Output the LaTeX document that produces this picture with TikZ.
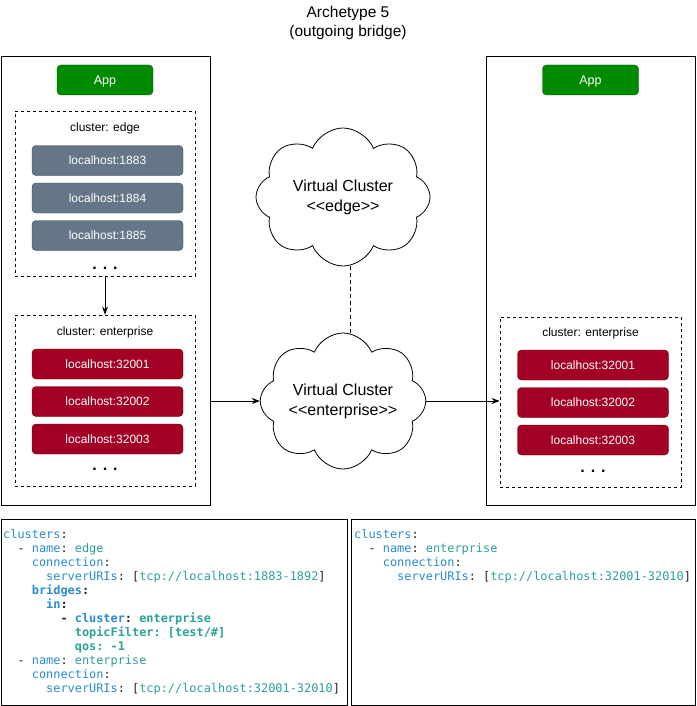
\documentclass[tikz,border=0pt]{standalone}
\usepackage{fontspec}
\setmainfont{Liberation Sans}
\setmonofont{DejaVu Sans Mono}
\usetikzlibrary{shapes.symbols,arrows.meta}
\definecolor{appgreen}{HTML}{008A00}
\definecolor{appline}{HTML}{005700}
\definecolor{edgefill}{HTML}{647687}
\definecolor{edgeline}{HTML}{314354}
\definecolor{entfill}{HTML}{A20025}
\definecolor{entline}{HTML}{6F0000}
\definecolor{yamlkey}{HTML}{268BD2}
\definecolor{yamlval}{HTML}{2AA198}
\definecolor{yamlpunct}{HTML}{222222}
\newcommand{\yk}[1]{\textcolor{yamlkey}{#1}}
\newcommand{\yv}[1]{\textcolor{yamlval}{#1}}
\newcommand{\yi}[1]{\phantom{#1}}
\tikzset{
    panel/.style={draw,line width=0.9pt,minimum width=209pt,inner sep=0pt},
    clusterbox/.style={draw,dashed,dash pattern=on 3pt off 3pt,line width=0.8pt,minimum width=180pt,inner sep=0pt},
    appbox/.style={draw=appline,fill=appgreen,text=white,rounded corners=4pt,minimum width=96pt,minimum height=30pt,inner sep=0pt,text depth=0pt,font=\fontsize{12.5}{14}\selectfont},
    edgebroker/.style={draw=edgeline,fill=edgefill,text=white,rounded corners=4pt,minimum width=151pt,minimum height=30pt,inner sep=0pt,font=\fontsize{12}{14}\selectfont},
    entbroker/.style={draw=entline,fill=entfill,text=white,rounded corners=4pt,minimum width=151pt,minimum height=30pt,inner sep=0pt,font=\fontsize{12}{14}\selectfont},
    clusterlabel/.style={font=\fontsize{12}{14}\selectfont,inner sep=0pt,text depth=0pt},
    moredots/.style={font=\fontsize{16}{16}\selectfont\bfseries,inner sep=0pt},
    vcluster/.style={cloud,draw,line width=0.8pt,cloud puffs=8,cloud puff arc=135,cloud ignores aspect,align=center,font=\fontsize{16}{20}\selectfont},
    codebox/.style={draw,line width=0.9pt,minimum height=186pt,inner sep=0pt},
    yaml/.style={anchor=north west,inner sep=0pt,align=left,text=yamlpunct,font=\ttfamily\fontsize{11.9}{14}\selectfont},
    link/.style={line width=0.8pt,-{Stealth[length=8pt,width=6pt]}}
}
\begin{document}
\begin{tikzpicture}[x=1pt,y=-1pt]
    \useasboundingbox (0,0) rectangle (696,706);
    \def\brokergap{37.5}
    \node[align=center,font=\fontsize{15.5}{19}\selectfont] (title) at (348,22.5) {Archetype 5\\(outgoing bridge)};

    \node[panel,minimum height=449pt] (lpanel) at (105.5,280.5) {};
    \node[panel,minimum height=449pt] (rpanel) at (590.5,280.5) {};
    \node[appbox] (lapp) at (105,80) {App};
    \node[appbox] (rapp) at (590.5,80) {App};

    \node[clusterbox,minimum height=165pt] (edgeclust) at (105,193.5) {};
    \node[clusterlabel] (edgelabel) at (105,127) {cluster: edge};
    \foreach\i/\port in{0/1883,1/1884,2/1885}{
        \node[edgebroker] (edge\port) at (107.5,160.5+\brokergap*\i) {localhost:\port};
    }
    \node[moredots] (edgedots) at (105,268) {. . .};

    \node[clusterbox,minimum height=171pt] (lentclust) at (105,400.5) {};
    \node[clusterlabel] (lentlabel) at (105,331) {cluster: enterprise};
    \node[clusterbox,minimum width=181pt,minimum height=170pt] (rentclust) at (590.5,402) {};
    \node[clusterlabel] (rentlabel) at (590.5,332) {cluster: enterprise};
    \foreach\i in{1,2,3}{
        \node[entbroker] (lent\i) at (107.5,364+\brokergap*\i-\brokergap) {localhost:\number\numexpr32000+\i};
        \node[entbroker] (rent\i) at (593,365+\brokergap*\i-\brokergap) {localhost:\number\numexpr32000+\i};
    }
    \node[moredots] (lentdots) at (105,469) {. . .};
    \node[moredots] (rentdots) at (593,471) {. . .};

    \node[vcluster,minimum width=174pt,minimum height=138pt] (vcedge) at (343,197) {Virtual Cluster\\<{}<edge>{}>};
    \node[vcluster,minimum width=162pt,minimum height=136pt] (vcent) at (343,401) {Virtual Cluster\\<{}<enterprise>{}>};

    \draw[link] (edgeclust.south) -- (lentclust.north);
    \draw[line width=0.8pt,dashed,dash pattern=on 4pt off 3pt] (vcedge.-84) -- (vcedge.-84 |- vcent.north);
    \draw[link] (vcent.west -| lpanel.east) -- (vcent.west);
    \draw[link] (vcent.east) -- (vcent.east -| rentclust.west);

    \node[codebox,minimum width=346pt] (lcode) at (174,612) {};
    \node[codebox,minimum width=344pt] (rcode) at (523,612) {};
    \node[yaml] (lyaml) at (3,529.5) {%
        \yk{clusters}:\\
        \yi{xx}- \yk{name}: \yv{edge}\\
        \yi{xxxx}\yk{connection}:\\
        \yi{xxxxxx}\yk{serverURIs}: [\yv{tcp://localhost:1883-1892}]\\
        \yi{xxxx}\textbf{\yk{bridges}:}\\
        \yi{xxxxxx}\textbf{\yk{in}:}\\
        \yi{xxxxxxxx}\textbf{- \yk{cluster}: \yv{enterprise}}\\
        \yi{xxxxxxxxxx}\textbf{\yv{topicFilter: [test/\#]}}\\
        \yi{xxxxxxxxxx}\textbf{\yv{qos: -1}}\\
        \yi{xx}- \yk{name}: \yv{enterprise}\\
        \yi{xxxx}\yk{connection}:\\
        \yi{xxxxxx}\yk{serverURIs}: [\yv{tcp://localhost:32001-32010}]};
    \node[yaml] (ryaml) at (354,529.5) {%
        \yk{clusters}:\\
        \yi{xx}- \yk{name}: \yv{enterprise}\\
        \yi{xxxx}\yk{connection}:\\
        \yi{xxxxxx}\yk{serverURIs}: [\yv{tcp://localhost:32001-32010}]};
\end{tikzpicture}
\end{document}
